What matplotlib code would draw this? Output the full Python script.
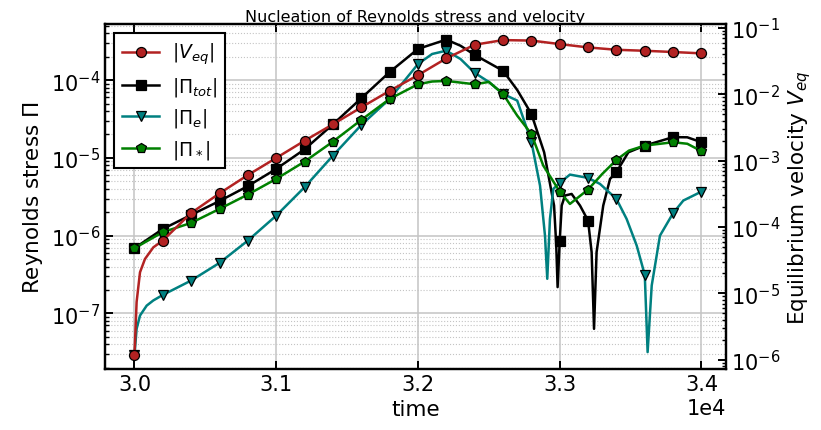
import matplotlib
matplotlib.use("Agg")
import matplotlib.pyplot as plt
from matplotlib.ticker import MultipleLocator

# ---------------- data ----------------
t_veq = [30000, 30015, 30039, 30074, 30133, 30200, 30400, 30600, 30800, 31000,
         31200, 31400, 31600, 31800, 32000, 32200, 32400, 32600, 32800, 33000,
         33200, 33400, 33600, 33800, 34000]
v_veq = [1.19e-6, 7.41e-6, 2.08e-5, 3.30e-5, 4.94e-5, 6.26e-5, 1.63e-4, 3.22e-4,
         6.08e-4, 1.10e-3, 2.00e-3, 3.54e-3, 6.37e-3, 1.13e-2, 1.95e-2, 3.49e-2,
         5.60e-2, 6.58e-2, 6.47e-2, 5.73e-2, 5.10e-2, 4.70e-2, 4.54e-2, 4.35e-2,
         4.15e-2]

t_tot = [30000, 30200, 30400, 30600, 30800, 31000, 31200, 31400, 31600, 31800,
         32000, 32200, 32300, 32400, 32600, 32700, 32800, 32890, 32960, 32975,
         32985, 33000, 33014, 33037, 33084, 33143, 33200, 33225, 33242, 33260,
         33307, 33355, 33400, 33484, 33600, 33800, 33900, 34000]
v_tot = [6.90e-7, 1.22e-6, 1.85e-6, 2.79e-6, 4.34e-6, 7.22e-6, 1.29e-5, 2.70e-5,
         5.85e-5, 1.27e-4, 2.52e-4, 3.32e-4, 2.77e-4, 2.11e-4, 1.32e-4, 7.48e-5,
         3.68e-5, 1.18e-5, 2.44e-6, 7.85e-7, 2.18e-7, 8.65e-7, 2.44e-6, 3.28e-6,
         3.44e-6, 2.44e-6, 1.56e-6, 6.14e-7, 6.34e-8, 6.14e-7, 2.44e-6, 5.37e-6,
         6.55e-6, 1.18e-5, 1.44e-5, 1.85e-5, 1.84e-5, 1.59e-5]

t_e = [30000, 30015, 30039, 30086, 30133, 30200, 30400, 30600, 30800, 31000,
       31200, 31400, 31600, 31800, 32000, 32100, 32200, 32300, 32400, 32500,
       32600, 32700, 32800, 32861, 32896, 32912, 32931, 32955, 33000, 33072,
       33200, 33284, 33400, 33472, 33543, 33600, 33620, 33649, 33707, 33800,
       33872, 34000]
v_e = [2.90e-8, 6.34e-8, 9.40e-8, 1.26e-7, 1.47e-7, 1.73e-7, 2.65e-7, 4.47e-7,
       8.65e-7, 1.81e-6, 4.20e-6, 1.07e-5, 2.65e-5, 5.73e-5, 1.61e-4, 2.17e-4,
       2.39e-4, 1.87e-4, 1.24e-4, 9.48e-5, 6.65e-5, 5.46e-5, 1.62e-5, 4.40e-6,
       1.00e-6, 2.79e-7, 1.64e-6, 4.00e-6, 4.77e-6, 6.10e-6, 5.53e-6, 4.63e-6,
       2.97e-6, 1.64e-6, 7.46e-7, 3.13e-7, 3.18e-8, 2.29e-7, 1.00e-6, 1.95e-6,
       2.83e-6, 3.69e-6]

t_star = [30000, 30200, 30400, 30600, 30800, 31000, 31200, 31400, 31600, 31800,
          32000, 32100, 32200, 32300, 32400, 32500, 32600, 32700, 32800, 32884,
          33000, 33072, 33200, 33300, 33400, 33488, 33600, 33800, 33900, 34000]
v_star = [6.90e-7, 1.11e-6, 1.46e-6, 2.21e-6, 3.38e-6, 5.37e-6, 8.96e-6, 1.62e-5,
          3.08e-5, 5.73e-5, 8.85e-5, 9.60e-5, 9.77e-5, 9.30e-5, 8.85e-5, 9.48e-5,
          6.65e-5, 3.50e-5, 2.03e-5, 7.96e-6, 3.69e-6, 2.56e-6, 3.92e-6, 6.22e-6,
          9.42e-6, 1.24e-5, 1.44e-5, 1.59e-5, 1.52e-5, 1.22e-5]

marker_step = 200
labels = [r'$|V_{eq}|$', r'$|\Pi_{tot}|$', r'$|\Pi_e|$', r'$|\Pi_*|$']
title = "Nucleation of Reynolds stress and velocity"


def mark_idx(ts):
    return [i for i, t in enumerate(ts) if t % marker_step == 0]


fs = 15
lfs = 15.5
fig = plt.figure(figsize=(8.21, 4.31), dpi=100)
ax = fig.add_axes([105 / 821, 1 - 370 / 431, (726 - 105) / 821, (370 - 25) / 431])
ax2 = ax.twinx()

common = dict(lw=1.8, markersize=7.2, markeredgecolor='black', markeredgewidth=0.9)
h1, = ax2.plot(t_veq, v_veq, color='#b22222', marker='o', markerfacecolor='#b22222',
               markevery=mark_idx(t_veq), label=labels[0], **common)
h2, = ax.plot(t_tot, v_tot, color='black', marker='s', markerfacecolor='black',
              markevery=mark_idx(t_tot), label=labels[1], **common)
h3, = ax.plot(t_e, v_e, color='#008080', marker='v', markerfacecolor='#008080',
              markevery=mark_idx(t_e), label=labels[2], **common)
h4, = ax.plot(t_star, v_star, color='#008000', marker='p', markerfacecolor='#008000',
              markevery=mark_idx(t_star), label=labels[3], **common)

ax.set_yscale('log')
ax2.set_yscale('log')
ax.set_xlim(29792, 34173)
ax.set_ylim(1.93e-8, 5.27e-4)
ax2.set_ylim(7.24e-7, 0.115)

ax.xaxis.set_major_locator(MultipleLocator(1000))
ax.ticklabel_format(style='sci', axis='x', scilimits=(0, 0))
ax.xaxis.get_offset_text().set_fontsize(fs)

ax.grid(True, which='major', color='#c4c4c4', lw=1.1)
ax.grid(True, which='minor', axis='y', color='#c4c4c4', ls=':', lw=0.8)
ax.set_axisbelow(True)

ax.tick_params(which='both', direction='in', top=True, right=False, labelsize=fs)
ax.tick_params(which='major', length=6, width=1.4)
ax.tick_params(which='minor', length=3, width=1.0)
ax2.tick_params(which='both', direction='in', labelsize=fs)
ax2.tick_params(which='major', length=6, width=1.4)
ax2.tick_params(which='minor', length=3, width=1.0)
for sp in list(ax.spines.values()) + list(ax2.spines.values()):
    sp.set_linewidth(1.6)

ax.set_xlabel('time', fontsize=lfs)
ax.set_ylabel(r'Reynolds stress $\Pi$', fontsize=lfs)
ax2.set_ylabel(r'Equilibrium velocity $V_{eq}$', fontsize=lfs)
ax.set_title(title, fontsize=11.5, pad=2)

leg = ax2.legend(handles=[h1, h2, h3, h4], loc='upper left', fontsize=13.5,
                 fancybox=False, framealpha=1, edgecolor='black',
                 labelspacing=0.45, handletextpad=0.7, borderpad=0.4)
leg.get_frame().set_linewidth(1.5)

fig.savefig('out.png', dpi=100)
